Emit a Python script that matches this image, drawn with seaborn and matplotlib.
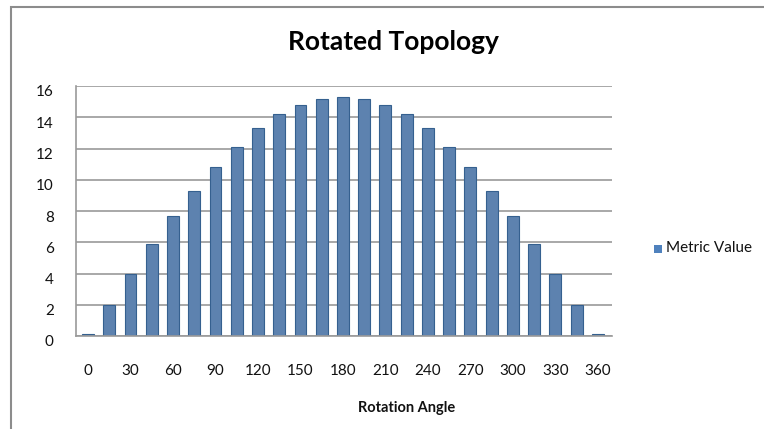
import matplotlib
matplotlib.use("Agg")
import matplotlib.pyplot as plt
import matplotlib.transforms as mtransforms
from matplotlib.patches import Rectangle
import seaborn as sns
import pandas as pd

# Rotation angle (degrees) and the metric measured at each angle
angles = [0, 15, 30, 45, 60, 75, 90, 105, 120, 135, 150, 165, 180,
          195, 210, 225, 240, 255, 270, 285, 300, 315, 330, 345, 360]
metric_values = [0.1, 2.0, 4.0, 5.9, 7.7, 9.3, 10.8, 12.1, 13.3, 14.2, 14.8, 15.2, 15.3,
                 15.2, 14.8, 14.2, 13.3, 12.1, 10.8, 9.3, 7.7, 5.9, 4.0, 2.0, 0.1]
x_ticks = [0, 30, 60, 90, 120, 150, 180, 210, 240, 270, 300, 330, 360]
y_ticks = [0, 2, 4, 6, 8, 10, 12, 14, 16]
series_name = "Metric Value"

df = pd.DataFrame({"angle": angles, "value": metric_values, "series": series_name})

sns.set_theme(style="white")
plt.rcParams["font.family"] = ["Lato", "DejaVu Sans"]

W, H = 764, 429
fig = plt.figure(figsize=(W / 100, H / 100), dpi=100)
ax = fig.add_axes([76 / W, (H - 336) / H, (612 - 76) / W, (336 - 86) / H])

bar_color = "#4F81BD"
sns.barplot(data=df, x="angle", y="value", hue="series", native_scale=True,
            palette=[bar_color], width=0.56, edgecolor="#35608F", linewidth=0.8,
            ax=ax, legend=False)

ax.set_xlim(-8.5, 370)
ax.set_ylim(0, 16)
ax.set_yticks(y_ticks)
ax.set_xticks(x_ticks)
ax.set_yticklabels([str(v) for v in y_ticks], fontsize=11, color="#111111")
ax.set_xticklabels([str(v) for v in x_ticks], fontsize=11, color="#111111")
ax.tick_params(axis="both", length=0)
ax.tick_params(axis="y", pad=16)
ax.tick_params(axis="x", pad=20)

# nudge y labels down a little, like the perspective offset of the wall
for lbl in ax.get_yticklabels():
    lbl.set_transform(lbl.get_transform() + mtransforms.ScaledTranslation(0, -5 / 100, fig.dpi_scale_trans))

ax.yaxis.grid(True, color="#9a9a9a", linewidth=1.2)
ax.xaxis.grid(False)
ax.set_axisbelow(True)
for side in ["top", "right"]:
    ax.spines[side].set_visible(False)
ax.spines["left"].set_color("#9a9a9a")
ax.spines["bottom"].set_color("#9a9a9a")
ax.spines["left"].set_linewidth(1.2)
ax.spines["bottom"].set_linewidth(1.2)

ax.set_ylabel("")
ax.set_xlabel("Rotation Angle", fontsize=10.5, fontweight="bold", color="#111111")
ax.xaxis.set_label_coords((407 - 76) / (612 - 76), (336 - 401) / 250)

fig.text(393 / W, (H - 42) / H, "Rotated Topology", ha="center", va="center",
         fontsize=19, fontweight="bold", color="#000000")

# legend entry
fig.patches.append(Rectangle((654 / W, (H - 253) / H), 8 / W, 8 / H,
                             transform=fig.transFigure, facecolor=bar_color,
                             edgecolor="none"))
fig.text(666 / W, (H - 248) / H, series_name, ha="left", va="center",
         fontsize=11, color="#111111")

# chart area frame
fig.patches.append(Rectangle((11 / W, -0.05), 1.2, (H - 7) / H + 0.05,
                             transform=fig.transFigure, facecolor="none",
                             edgecolor="#8c8c8c", linewidth=1.5))

fig.savefig("out.png", dpi=100, facecolor="white")
